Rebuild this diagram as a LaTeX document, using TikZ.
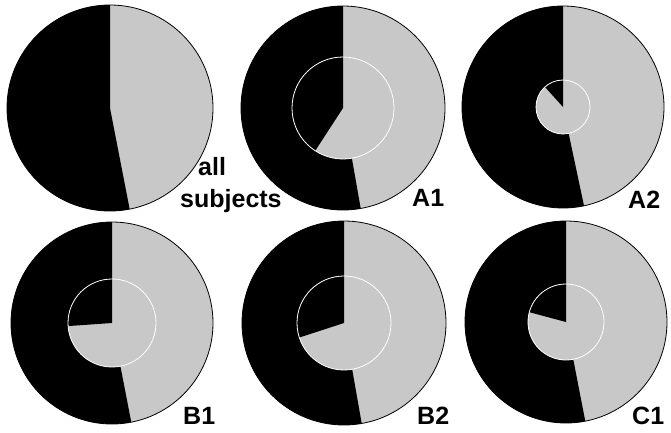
\documentclass[tikz,border=0pt]{standalone}
\usepackage{fontspec}
\setmainfont{Liberation Sans}
\definecolor{piegray}{RGB}{200,200,200}

\begin{document}
\begin{tikzpicture}[x=1pt, y=1pt,
    dark/.style={fill=black},
    light/.style={fill=piegray},
    rim/.style={draw=black, line width=0.8pt},
    inner rim/.style={draw=white, line width=0.8pt},
    lbl/.style={font=\bfseries\fontsize{25}{28}\selectfont, inner sep=0pt, anchor=base west}]
  \useasboundingbox[fill=white] (0,0) rectangle (671,432);

  % centres of the six charts
  \coordinate (all) at (110,324);
  \coordinate (A1) at (343,324);
  \coordinate (A2) at (563,325);
  \coordinate (B1) at (112,109);
  \coordinate (B2) at (344,109);
  \coordinate (C1) at (566,110);

  % all subjects
  \fill[light] (all) circle[radius=103];
  \fill[dark] (all) -- ++(90:103) arc[start angle=90, end angle=281, radius=103] -- cycle;
  \draw[rim] (all) circle[radius=103];

  % A1
  \fill[light] (A1) circle[radius=102];
  \fill[dark] (A1) -- ++(90:102) arc[start angle=90, end angle=280, radius=102] -- cycle;
  \draw[rim] (A1) circle[radius=102];
  \fill[light] (A1) circle[radius=51];
  \fill[dark] (A1) -- ++(90:51) arc[start angle=90, end angle=237, radius=51] -- cycle;
  \draw[inner rim] (A1) circle[radius=51];

  % A2
  \fill[light] (A2) circle[radius=101];
  \fill[dark] (A2) -- ++(90:101) arc[start angle=90, end angle=282, radius=101] -- cycle;
  \draw[rim] (A2) circle[radius=101];
  \fill[light] (A2) circle[radius=27];
  \fill[dark] (A2) -- ++(90:27) arc[start angle=90, end angle=132, radius=27] -- cycle;
  \draw[inner rim] (A2) circle[radius=27];

  % B1
  \fill[light] (B1) circle[radius=101];
  \fill[dark] (B1) -- ++(90:101) arc[start angle=90, end angle=281, radius=101] -- cycle;
  \draw[rim] (B1) circle[radius=101];
  \fill[light] (B1) circle[radius=44];
  \fill[dark] (B1) -- ++(90:44) arc[start angle=90, end angle=184, radius=44] -- cycle;
  \draw[inner rim] (B1) circle[radius=44];

  % B2
  \fill[light] (B2) circle[radius=102];
  \fill[dark] (B2) -- ++(90:102) arc[start angle=90, end angle=280, radius=102] -- cycle;
  \draw[rim] (B2) circle[radius=102];
  \fill[light] (B2) circle[radius=47];
  \fill[dark] (B2) -- ++(90:47) arc[start angle=90, end angle=198, radius=47] -- cycle;
  \draw[inner rim] (B2) circle[radius=47];

  % C1
  \fill[light] (C1) circle[radius=101];
  \fill[dark] (C1) -- ++(90:101) arc[start angle=90, end angle=281, radius=101] -- cycle;
  \draw[rim] (C1) circle[radius=101];
  \fill[light] (C1) circle[radius=38];
  \fill[dark] (C1) -- ++(90:38) arc[start angle=90, end angle=165, radius=38] -- cycle;
  \draw[inner rim] (C1) circle[radius=38];

  % labels
  \node[lbl] (lblall) at (198,257) {all};
  \node[lbl] (lblsubj) at (180,225) {subjects};
  \node[lbl] (lblA1) at (412,226) {A1};
  \node[lbl] (lblA2) at (628,224) {A2};
  \node[lbl] (lblB1) at (183,8) {B1};
  \node[lbl] (lblB2) at (417,8) {B2};
  \node[lbl] (lblC1) at (632,8) {C1};
\end{tikzpicture}
\end{document}
